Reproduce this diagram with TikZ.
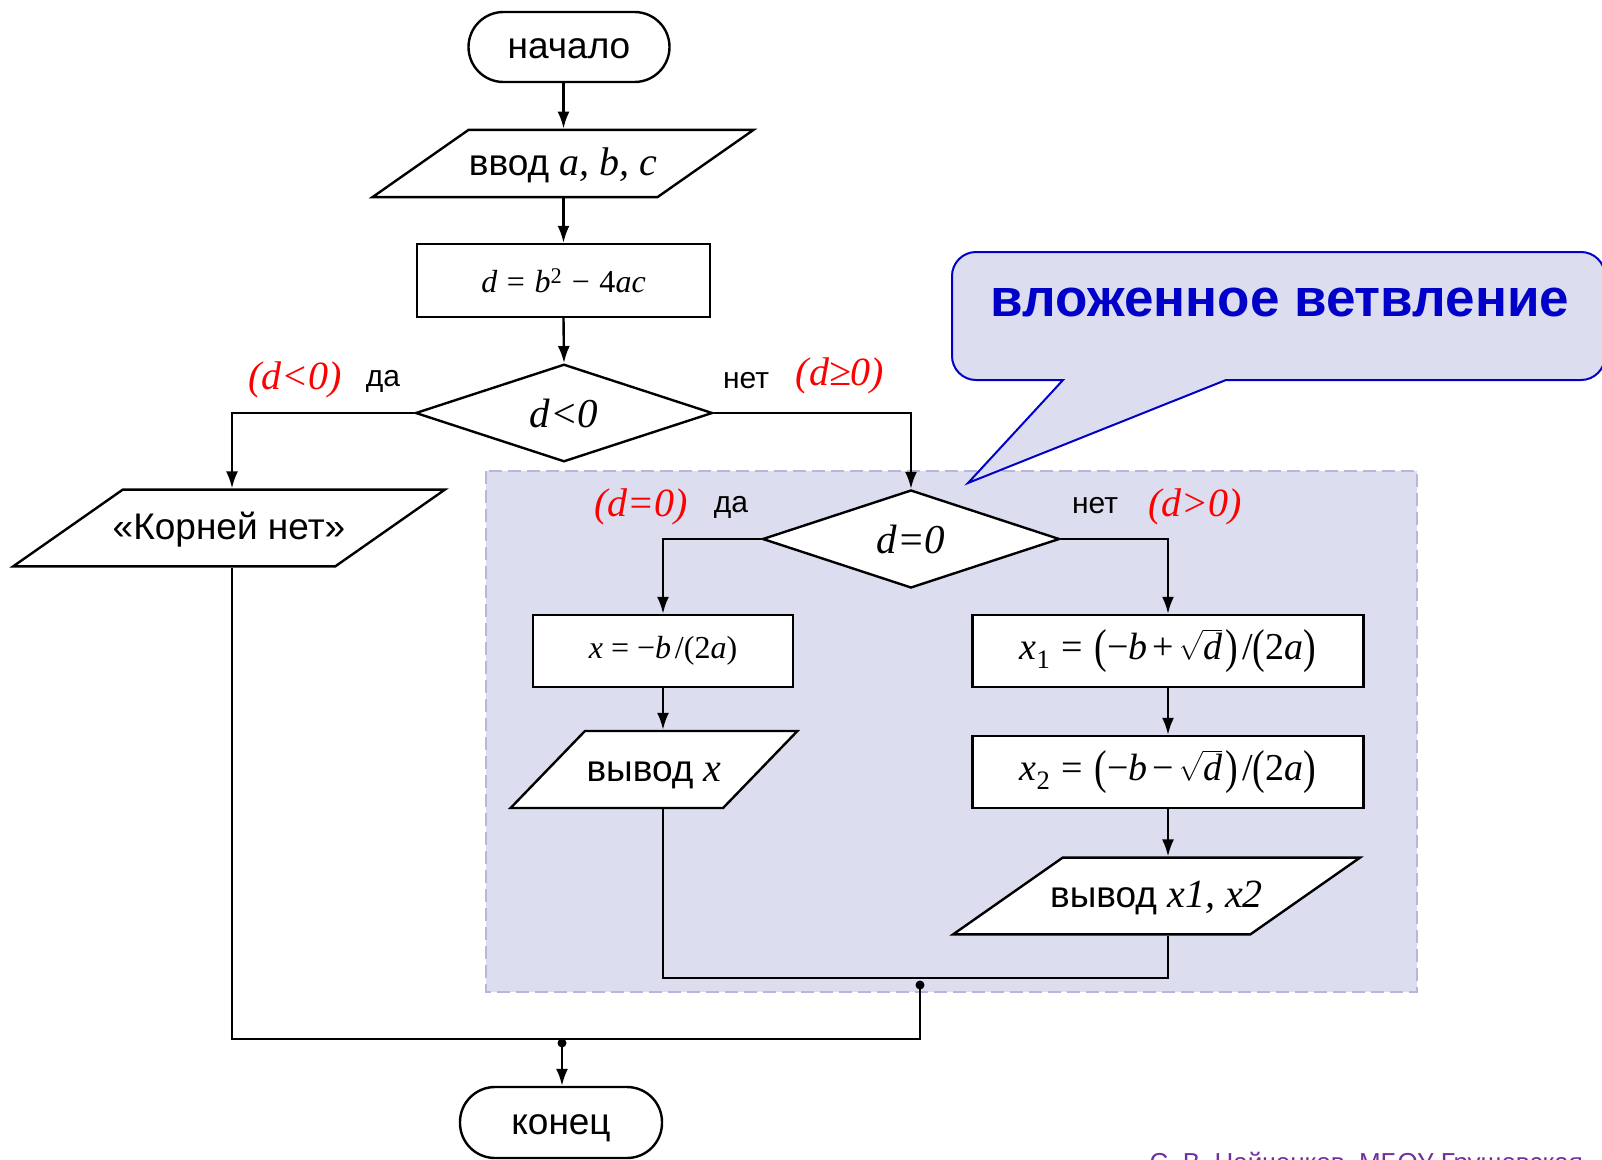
\documentclass[tikz,border=0pt]{standalone}
\usepackage{exscale}
\usepackage{fontspec}
\setmainfont{Liberation Sans}
\newfontfamily\tnr{Liberation Serif}
\usepackage{tikz}
\usetikzlibrary{arrows.meta, shapes.geometric, calc}
\newcommand\sz[1]{\fontsize{#1}{#1}\selectfont}
\newcommand\lp{\raisebox{-.08em}{\scalebox{1}[1.25]{(}}}
\newcommand\rp{\raisebox{-.08em}{\scalebox{1}[1.25]{)}}}
\newcommand\gap{\kern.3em}
\definecolor{lav}{RGB}{221,221,240}
\definecolor{lavline}{RGB}{183,183,222}
\definecolor{calblue}{RGB}{0,0,200}
\definecolor{footpurple}{RGB}{112,48,160}
\tikzset{
  conn/.style={line width=2.4pt},
  arr/.style={conn, -{Latex[length=17pt,width=12pt]}},
  term/.style={draw, conn, fill=white, rectangle, rounded corners=35pt, minimum width=201pt, minimum height=70pt, text height=23pt, text depth=0pt, font=\sz{37}},
  proc/.style={draw, conn, fill=white, rectangle, minimum height=72pt, inner sep=0pt},
  io/.style={draw, conn, fill=white, trapezium, trapezium left angle=35, trapezium right angle=145, inner xsep=0pt, text height=23pt, text depth=0pt, font=\sz{37}},
  cond/.style={draw, conn, fill=white, diamond, minimum width=297pt, minimum height=97pt, inner sep=0pt, font=\tnr\itshape\sz{41}},
  lbl/.style={font=\sz{30}},
  cnd/.style={red, font=\tnr\itshape\sz{40}},
}

\begin{document}
\begin{tikzpicture}[x=1pt, y=-1pt]
\useasboundingbox (0,0) rectangle (1602,1159);
\draw[lavline, fill=lav, line width=2pt, dash pattern=on 13pt off 6pt] (486,471) rectangle (1417,992);
\filldraw[calblue, fill=lav, line width=2pt] (1300,380) [rounded corners=24pt] -- (1605,380) -- (1605,252) -- (952,252) -- (952,380) -- (1010,380) [sharp corners] -- (1063,380) -- (968,483) -- (1226,380) -- cycle;
\node[text=calblue, font=\bfseries\sz{53}] (note) at (1280,302) {вложенное ветвление};
\node[anchor=base west, text=footpurple, font=\sz{26}] (foot) at (1146,1171) {С. В. Найченков, МБОУ Грушевская};

\node[term] (start) at (569,47) {начало};
\node[io, inner ysep=22.1pt, minimum width=382pt] (inp) at (563,163.5) {ввод {\tnr\itshape\sz{40}a, b, c}};
\node[proc, minimum width=293pt, minimum height=73pt] (calc) at (563.5,280.5) {\tnr\sz{32}\itshape d\gap\upshape =\gap\itshape b\textsuperscript{\upshape 2}\gap\upshape −\gap 4\itshape ac};
\node[cond] (dlt) at (564,413) {d<0};
\node[io, inner ysep=26.6pt, inner xsep=-11pt, minimum width=432pt] (kornet) at (229,528) {«Корней нет»};
\node[cond, minimum height=98pt] (dz) at (911,539) {d=0};
\node[proc, minimum width=260pt] (xbox) at (663,651) {\tnr\sz{32}\itshape x\kern.25em\upshape =\kern.25em −\itshape b\upshape\kern.12em/(2\itshape a\upshape )};
\node[proc, minimum width=391pt] (x1box) at (1168,651) {\tnr\sz{38}\itshape x\textsubscript{\upshape 1}\upshape\gap=\gap\lp−\itshape b\upshape\kern.12em+\kern.12em$\sqrt{\hbox{\itshape d}}$\kern.1em\rp\kern.1em/\lp 2\itshape a\upshape\rp};
\node[proc, minimum width=391pt] (x2box) at (1168,772) {\tnr\sz{38}\itshape x\textsubscript{\upshape 2}\upshape\gap=\gap\lp−\itshape b\upshape\kern.12em−\kern.12em$\sqrt{\hbox{\itshape d}}$\kern.1em\rp\kern.1em/\lp 2\itshape a\upshape\rp};
\node[io, trapezium left angle=46, trapezium right angle=134, inner ysep=26.1pt, minimum width=288pt] (outx) at (654,769.5) {вывод {\tnr\itshape\sz{40}x}};
\node[io, inner ysep=26.6pt, inner xsep=-13pt, minimum width=407pt] (outxy) at (1156.5,896) {вывод {\tnr\itshape\sz{40}x1, x2}};
\node[term, minimum width=202pt, minimum height=71pt] (fin) at (561,1122.5) {конец};

\node[cnd] (c1) at (295,380) {(d<0)};
\node[lbl] (c1y) at (383,381) {да};
\node[lbl] (c1n) at (746,381) {нет};
\node[cnd] (c1g) at (840,376) {(d≥0)};
\node[cnd] (c2) at (641,507) {(d=0)};
\node[lbl] (c2y) at (731,507) {да};
\node[lbl] (c2n) at (1095,506) {нет};
\node[cnd] (c2g) at (1195,507) {(d>0)};

\coordinate (colL) at (232,0);
\coordinate (m1) at (0,978);
\coordinate (m2) at (0,1039);
\coordinate (j1) at (920,985);
\coordinate (j2) at (562,1043);

\draw[arr] (start.south -| calc) -- (calc |- inp.north);
\draw[arr] (inp.south -| calc) -- (calc.north);
\draw[arr] (calc.south) -- (dlt.north);
\draw[arr] (dlt.west) -| (colL |- kornet.north);
\draw[arr] (dlt.east) -| (dz.north);
\draw[arr] (dz.west) -| (xbox.north);
\draw[arr] (dz.east) -| (x1box.north);
\draw[arr] (xbox.south) -- (xbox.south |- outx.north);
\draw[arr] (x1box.south) -- (x2box.north);
\draw[arr] (x2box.south) -- (x2box.south |- outxy.north);
\draw[conn] (outx.south -| xbox) |- (m1 -| x1box) -- (outxy.south -| x1box);
\draw[conn] (j1) |- (m2 -| colL) -- (kornet.south -| colL);
\fill (j1) circle (4.5pt);
\fill (j2) circle (4.5pt);
\draw[arr] (j2) -- (j2 |- fin.north);
\end{tikzpicture}
\end{document}
